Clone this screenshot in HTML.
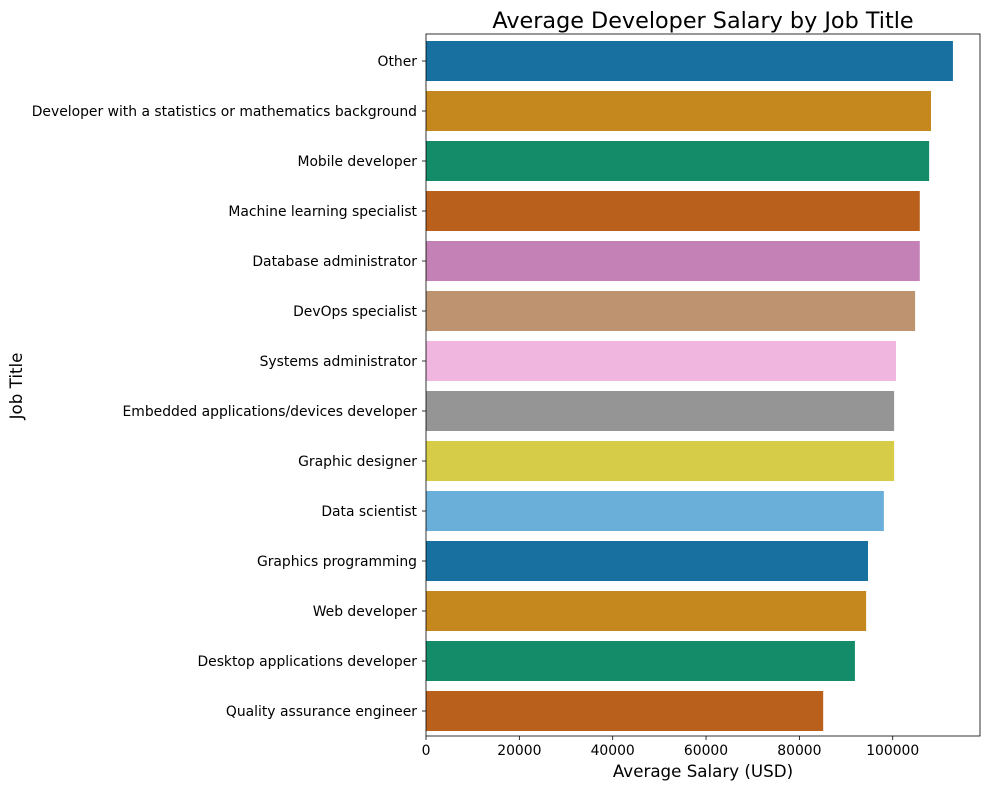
<!DOCTYPE html>
<html><head><meta charset="utf-8"><style>
body{margin:0;background:#fff;font-family:"Liberation Sans","DejaVu Sans",sans-serif}
</style></head><body>
<svg id="chart" width="990" height="790" xmlns="http://www.w3.org/2000/svg" font-family="DejaVu Sans, Liberation Sans, sans-serif"></svg>
<script>
const categories=["Other","Developer with a statistics or mathematics background","Mobile developer","Machine learning specialist","Database administrator","DevOps specialist","Systems administrator","Embedded applications/devices developer","Graphic designer","Data scientist","Graphics programming","Web developer","Desktop applications developer","Quality assurance engineer"];
const salaries=[112900,108200,107800,105800,105800,104800,100700,100300,100300,98100,94700,94300,91900,85100];
const xTicks=[0,20000,40000,60000,80000,100000];
const colors=["#1870a0","#c4881f","#148b69","#b9611c","#c381b5","#be9470","#f1b6e0","#959595","#d6cc48","#69afd9"];
const svg=document.getElementById('chart');
const NS="http://www.w3.org/2000/svg";
const L=426,R=980,T=34,B=736;
const xMax=118700;
const x=v=>L+(v/xMax)*(R-L);
const band=50;
const y=i=>36+i*band;
function mk(t,a,txt){const e=document.createElementNS(NS,t);for(const k in a)e.setAttribute(k,a[k]);if(txt!==undefined)e.textContent=txt;svg.appendChild(e);return e;}
categories.forEach((c,i)=>{
 const r=mk('rect',{x:L,y:y(i)+band*0.1,width:x(salaries[i])-L,height:band*0.8,fill:colors[i%colors.length]});
 
 
 const cy=y(i)+band/2;
 mk('line',{x1:L-4,x2:L,y1:cy,y2:cy,stroke:'#000','stroke-width':0.8});
 const t=mk('text',{x:L-9,y:cy+5,'text-anchor':'end','font-size':13.9},c);
 
 
});
xTicks.forEach(v=>{
 mk('line',{x1:x(v),x2:x(v),y1:B,y2:B+4,stroke:'#000','stroke-width':0.8});
 const t=mk('text',{x:x(v),y:B+19,'text-anchor':'middle','font-size':13.9},String(v));
 
 
});
const f=mk('rect',{x:L,y:T,width:R-L,height:B-T,fill:'none',stroke:'#000','stroke-width':0.8});


const tt=mk('text',{x:703,y:28,'text-anchor':'middle','font-size':22.3},'Average Developer Salary by Job Title');


const xt=mk('text',{x:703,y:777,'text-anchor':'middle','font-size':16.7},'Average Salary (USD)');


const yt=mk('text',{x:22,y:386,'text-anchor':'middle','font-size':16.7,transform:'rotate(-90 22 386)'},'Job Title');


</script>
</body></html>
